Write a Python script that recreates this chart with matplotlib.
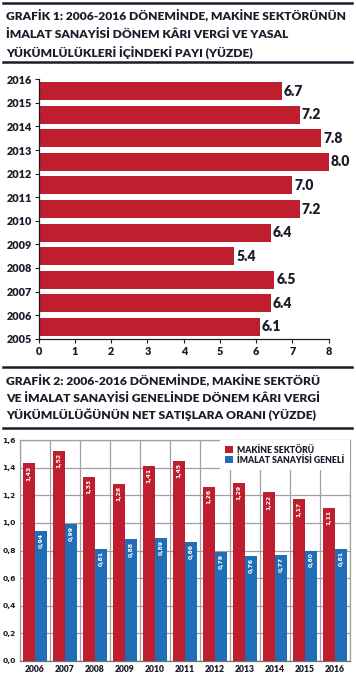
import matplotlib
matplotlib.use('Agg')
import matplotlib.pyplot as plt
from matplotlib.lines import Line2D

# data
years1 = ['2005', '2006', '2007', '2008', '2009', '2010', '2011', '2012', '2013', '2014', '2015', '2016']
share = [6.1, 6.4, 6.5, 5.4, 6.4, 7.2, 7.0, 8.0, 7.8, 7.2, 6.7]

years2 = ['2006', '2007', '2008', '2009', '2010', '2011', '2012', '2013', '2014', '2015', '2016']
makine = [1.43, 1.52, 1.33, 1.28, 1.41, 1.45, 1.26, 1.29, 1.22, 1.17, 1.11]
imalat = [0.94, 0.99, 0.81, 0.88, 0.89, 0.86, 0.79, 0.76, 0.77, 0.80, 0.81]
y2_ticks = [0.0, 0.2, 0.4, 0.6, 0.8, 1.0, 1.2, 1.4, 1.6]

plt.rcParams['font.family'] = ['Lato', 'DejaVu Sans']
WT = 'heavy'
plt.rcParams['font.weight'] = WT

RED = '#be1e2d'
BLUE = '#1f6fb8'
INK = '#1b1b2a'
W, H = 356, 682

fig = plt.figure(figsize=(W / 100, H / 100), dpi=100)
renderer = fig.canvas.get_renderer()


def px_axes(x0, y0, x1, y1):
    return fig.add_axes([x0 / W, 1 - y1 / H, (x1 - x0) / W, (y1 - y0) / H])


def rule(y, lw=1.8):
    fig.add_artist(Line2D([3 / W, 352 / W], [1 - y / H, 1 - y / H], color=INK, lw=lw))


def title(lines, ys, width_px):
    # first line sets the size so that it spans the given width
    t0 = fig.text(6 / W, 1 - ys[0] / H, lines[0], fontsize=10, fontweight=WT, color=INK, va='center')
    w = t0.get_window_extent(renderer).width
    fs = 10 * width_px / w
    t0.set_fontsize(fs)
    for t, y in zip(lines[1:], ys[1:]):
        fig.text(6 / W, 1 - y / H, t, fontsize=fs, fontweight=WT, color=INK, va='center')


# ---- grafik 1
rule(2.5)
title(['GRAFİK 1: 2006-2016 DÖNEMİNDE, MAKİNE SEKTÖRÜNÜN',
       'İMALAT SANAYİSİ DÖNEM KÂRI VERGİ VE YASAL',
       'YÜKÜMLÜLÜKLERİ İÇİNDEKİ PAYI (YÜZDE)'], [16.5, 35, 53], 340)
rule(62)

ax1 = px_axes(38.7, 79.3, 328.7, 338.7)
pos = [i + 0.5 for i in range(len(share))]
ax1.barh(pos, share, height=0.77, color=RED)
for p, v in zip(pos, share):
    ax1.text(v + 0.06, p, f'{v:.1f}', va='center', ha='left', fontsize=10, fontweight=WT, color=INK)
ax1.set_xlim(0, 8)
ax1.set_ylim(0, 11)
ax1.set_yticks(range(12))
ax1.set_yticklabels(years1)
ax1.set_xticks(range(9))
for s in ['top', 'right']:
    ax1.spines[s].set_visible(False)
for s in ['left', 'bottom']:
    ax1.spines[s].set_color(INK)
    ax1.spines[s].set_linewidth(0.9)
ax1.tick_params(colors=INK, labelsize=7.8, length=3, width=0.8, pad=2)

# ---- grafik 2
rule(367)
title(['GRAFİK 2: 2006-2016 DÖNEMİNDE, MAKİNE SEKTÖRÜ',
       'VE İMALAT SANAYİSİ GENELİNDE DÖNEM KÂRI VERGİ',
       'YÜKÜMLÜLÜĞÜNÜN NET SATIŞLARA ORANI (YÜZDE)'], [381, 398, 415], 316)
rule(428)

ax2 = px_axes(20, 440, 350, 661)
n = len(years2)
xs = list(range(n))
bw = 0.39
ax2.bar([x + 0.5 - bw / 2 - 0.005 for x in xs], makine, width=bw, color=RED, zorder=3, label='MAKİNE SEKTÖRÜ')
ax2.bar([x + 0.5 + bw / 2 + 0.005 for x in xs], imalat, width=bw, color=BLUE, zorder=3, label='İMALAT SANAYİSİ GENELİ')
lab_font = ['DejaVu Sans']
for x, v in zip(xs, makine):
    ax2.text(x + 0.5 - bw / 2, v - 0.015, f'{v:.2f}'.replace('.', ','), rotation=90, va='top', ha='center',
             fontsize=4.4, color='white', fontweight='bold', family=lab_font, zorder=4)
for x, v in zip(xs, imalat):
    ax2.text(x + 0.5 + bw / 2, v - 0.015, f'{v:.2f}'.replace('.', ','), rotation=90, va='top', ha='center',
             fontsize=4.4, color='white', fontweight='bold', family=lab_font, zorder=4)
ax2.set_xlim(0, n)
ax2.set_ylim(0, 1.6)
ax2.set_yticks(y2_ticks)
ax2.set_yticklabels([f'{t:.1f}'.replace('.', ',') for t in y2_ticks], family=lab_font, fontweight='bold')
ax2.set_xticks(range(n + 1), minor=False)
ax2.set_xticks([x + 0.5 for x in xs], minor=True)
ax2.set_xticklabels(years2, minor=True)
ax2.grid(True, which='major', color='#a0a0a0', lw=0.9, zorder=0)
ax2.tick_params(which='both', length=0, labelsize=6.2, colors=INK, pad=3)
ax2.tick_params(axis='y', labelsize=5.4)
ax2.tick_params(axis='x', which='major', labelbottom=False)
for s in ax2.spines.values():
    s.set_color('#a0a0a0')
    s.set_linewidth(0.9)
ax2.spines['bottom'].set_color('#707070')
leg = ax2.legend(loc='upper right', bbox_to_anchor=(1.0, 1.0), fontsize=6.2, frameon=True, fancybox=False,
                 edgecolor='none', facecolor='white', framealpha=1, handlelength=0.9, handleheight=0.9,
                 handletextpad=0.5, labelspacing=0.15, borderpad=0.6, borderaxespad=0.05)
for t in leg.get_texts():
    t.set_color(INK)
leg.set_zorder(5)

fig.savefig('out.png', dpi=100)
